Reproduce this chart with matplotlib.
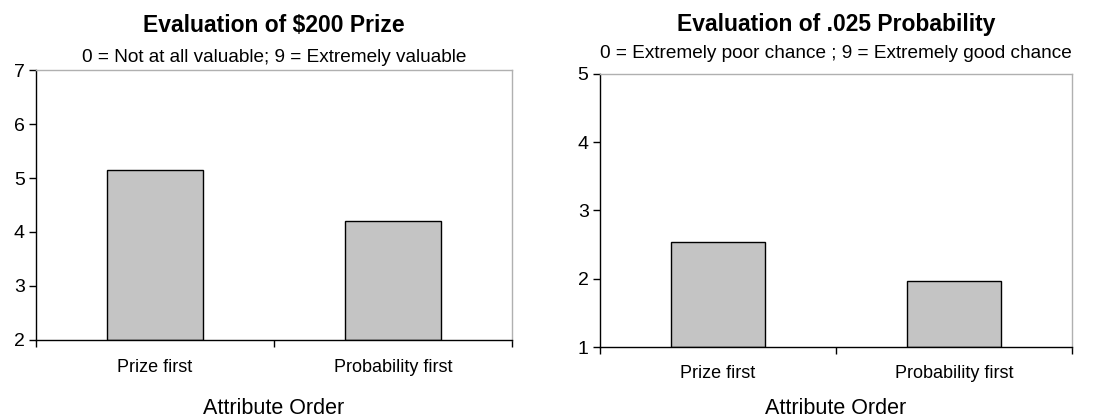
import matplotlib.pyplot as plt
import numpy as np

plt.rcParams['font.family'] = ['Liberation Sans', 'DejaVu Sans']

categories = ["Prize first", "Probability first"]
prize_vals = [5.14, 4.20]
prob_vals = [2.54, 1.96]

titles = ["Evaluation of $200 Prize", "Evaluation of .025 Probability"]
subtitles = ["0 = Not at all valuable; 9 = Extremely valuable",
             "0 = Extremely poor chance ; 9 = Extremely good chance"]
ylims = [(2, 7), (1, 5)]
positions = [[0.0327, 0.1905, 0.4319, 0.6428],
             [0.5442, 0.1738, 0.4286, 0.6507]]
sub_y = [57, 53]
cat_y = [368, 374]

W, H = 1102, 420
fig = plt.figure(figsize=(11.02, 4.2), dpi=100)

for k, vals in enumerate([prize_vals, prob_vals]):
    ax = fig.add_axes(positions[k])
    lo, hi = ylims[k]
    x = np.arange(len(categories))
    ax.bar(x, np.array(vals) - lo, bottom=lo, width=0.4, color='#c4c4c4',
           edgecolor='black', linewidth=1.0)
    ax.set_xlim(-0.5, 1.5)
    ax.set_ylim(lo, hi)
    ax.set_yticks(np.arange(lo, hi + 1, 1))
    ax.set_xticks([-0.5, 0.5, 1.5])
    ax.set_xticklabels([])
    ax.tick_params(axis='x', direction='out', length=5, width=1)
    ax.tick_params(axis='y', direction='out', length=5, width=1, labelsize=14, pad=3)
    for s in ['top', 'right']:
        ax.spines[s].set_color('#b0b0b0')
        ax.spines[s].set_linewidth(1.0)
    for s in ['left', 'bottom']:
        ax.spines[s].set_color('black')
        ax.spines[s].set_linewidth(1.0)

    # category labels under the bars
    for xi, name in zip(x, categories):
        xf = ax.transData.transform((xi, lo))[0] / W
        fig.text(xf, 1 - cat_y[k] / H, name, ha='center', va='center', fontsize=13)

    cx = positions[k][0] + positions[k][2] / 2
    fig.text(cx, 1 - 25 / H, titles[k], ha='center', va='center',
             fontsize=16.5, fontweight='bold')
    fig.text(cx, 1 - sub_y[k] / H, subtitles[k], ha='center', va='center', fontsize=13.7)
    fig.text(cx, 1 - 409 / H, "Attribute Order", ha='center', va='center', fontsize=15.5)

fig.savefig("out.png", dpi=100)
